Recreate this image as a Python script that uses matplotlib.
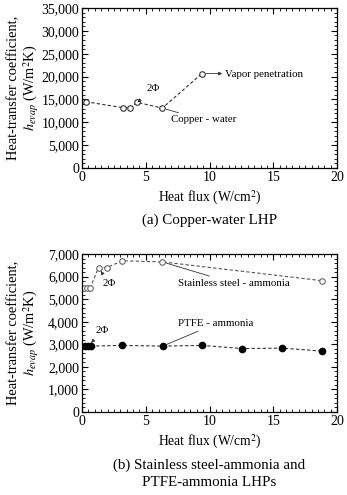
import matplotlib
matplotlib.use("Agg")
import matplotlib.pyplot as plt
from matplotlib.ticker import MultipleLocator, FuncFormatter

plt.rcParams["font.family"] = ["Liberation Serif", "DejaVu Serif"]
plt.rcParams["mathtext.fontset"] = "stix"

# (a) copper-water
cu_q = [0.3, 3.2, 3.8, 4.35, 6.3, 9.4]
cu_h = [14500, 13200, 13200, 14350, 13100, 20650]

# (b) stainless steel - ammonia
ss_q = [0.18, 0.42, 0.63, 1.3, 1.93, 3.17, 6.3, 18.8]
ss_h = [5480, 5480, 5480, 6400, 6400, 6700, 6650, 5820]

# (b) PTFE - ammonia
pt_q = [0.24, 0.5, 0.68, 3.17, 6.33, 9.44, 12.57, 15.7, 18.8]
pt_h = [2930, 2930, 2920, 2950, 2920, 2950, 2810, 2830, 2700]

W, H = 347, 495
fig = plt.figure(figsize=(W / 100, H / 100), dpi=100)

def px_axes(l, t, r, b):
    return fig.add_axes([l / W, 1 - b / H, (r - l) / W, (b - t) / H])

comma = FuncFormatter(lambda v, p: f"{int(v):,}")
ANN = 7.8

def style(ax, ymax, ymaj, ymin):
    ax.set_xlim(0, 20)
    ax.set_ylim(0, ymax)
    ax.xaxis.set_major_locator(MultipleLocator(5))
    ax.xaxis.set_minor_locator(MultipleLocator(0.5))
    ax.yaxis.set_major_locator(MultipleLocator(ymaj))
    ax.yaxis.set_minor_locator(MultipleLocator(ymin))
    ax.yaxis.set_major_formatter(comma)
    ax.tick_params(which="both", direction="in", top=True, right=True, labelsize=10, pad=2)
    ax.tick_params(which="major", length=4, width=0.8)
    ax.tick_params(which="minor", length=2, width=0.6)
    for s in ax.spines.values():
        s.set_linewidth(0.9)
    ax.set_xlabel("Heat flux (W/cm$^2$)", fontsize=9.8, labelpad=4)
    ax.set_ylabel("Heat-transfer coefficient,\n$h_{evap}$ (W/m$^2$K)", fontsize=10.4,
                  linespacing=1.1)
    ax.yaxis.set_label_coords(-41 / 255, 0.5)

# ---- (a)
ax1 = px_axes(82, 8, 337, 168)
style(ax1, 35000, 5000, 1000)
ax1.plot(cu_q, cu_h, ls=(0, (3, 2)), color="#333333", lw=0.8, marker="o", ms=4,
         mfc="white", mec="#333333", mew=0.8)
ax1.annotate("2Φ", xy=(cu_q[3], cu_h[3]), xytext=(5.6, 17300), fontsize=ANN,
             ha="center", va="center",
             arrowprops=dict(arrowstyle="-|>", lw=0.6, color="#333333", mutation_scale=5,
                             shrinkA=4, shrinkB=3))
ax1.annotate("Copper - water", xy=(cu_q[4], cu_h[4]), xytext=(7.0, 10500), fontsize=ANN,
             ha="left", va="center",
             arrowprops=dict(arrowstyle="-", lw=0.6, color="#333333", shrinkA=0, shrinkB=3))
ax1.annotate("Vapor penetration", xy=(11.1, cu_h[5]), xytext=(11.2, 20500), fontsize=ANN,
             ha="left", va="center")
ax1.annotate("", xy=(11.0, cu_h[5]), xytext=(cu_q[5], cu_h[5]),
             arrowprops=dict(arrowstyle="-|>", lw=0.6, color="#333333", mutation_scale=5,
                             shrinkA=3, shrinkB=0))
fig.text(209.5 / W, 1 - 220 / H, "(a) Copper-water LHP", ha="center", va="center", fontsize=10.8)

# ---- (b)
ax2 = px_axes(82, 254, 337, 412)
style(ax2, 7000, 1000, 200)
ax2.plot(ss_q, ss_h, ls=(0, (3, 2)), color="#555555", lw=0.8, marker="o", ms=4,
         mfc="white", mec="#666666", mew=0.8)
ax2.plot(pt_q, pt_h, ls=(0, (3, 2)), color="#333333", lw=0.8, marker="o", ms=4.5,
         mfc="black", mec="black")
ax2.annotate("2Φ", xy=(ss_q[3], ss_h[3]), xytext=(2.1, 5700), fontsize=ANN,
             ha="center", va="center",
             arrowprops=dict(arrowstyle="-|>", lw=0.6, color="#333333", mutation_scale=5,
                             shrinkA=4, shrinkB=3))
ax2.annotate("Stainless steel - ammonia", xy=(ss_q[6], ss_h[6]), xytext=(7.5, 5700),
             fontsize=ANN, ha="left", va="center",
             arrowprops=dict(arrowstyle="-", lw=0.6, color="#333333", shrinkA=0, shrinkB=3))
ax2.annotate("PTFE - ammonia", xy=(pt_q[4], pt_h[4]), xytext=(7.5, 3900),
             fontsize=ANN, ha="left", va="center",
             arrowprops=dict(arrowstyle="-", lw=0.6, color="#333333", shrinkA=0, shrinkB=3))
ax2.annotate("2Φ", xy=(pt_q[1], pt_h[1]), xytext=(1.6, 3600), fontsize=ANN,
             ha="center", va="center",
             arrowprops=dict(arrowstyle="-|>", lw=0.6, color="#333333", mutation_scale=5,
                             shrinkA=4, shrinkB=3))
fig.text(209.5 / W, 1 - 465 / H, "(b) Stainless steel-ammonia and", ha="center", va="center",
         fontsize=10.8)
fig.text(209.5 / W, 1 - 482 / H, "PTFE-ammonia LHPs", ha="center", va="center", fontsize=10.8)

fig.savefig("out.png", dpi=100)
